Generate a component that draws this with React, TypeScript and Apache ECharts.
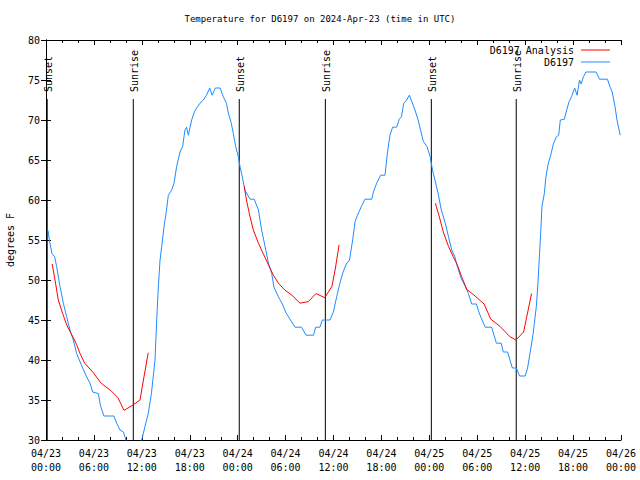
import React, { useEffect, useRef } from "react";
import * as echarts from "echarts";

// Hours since 2024-04-23 00:00 UTC
const xTickLabels = [
  "04/23\n00:00", "04/23\n06:00", "04/23\n12:00", "04/23\n18:00",
  "04/24\n00:00", "04/24\n06:00", "04/24\n12:00", "04/24\n18:00",
  "04/25\n00:00", "04/25\n06:00", "04/25\n12:00", "04/25\n18:00",
  "04/26\n00:00",
];

const stationHours = [
  0.25, 0.42, 0.75, 1.08, 1.33, 1.75, 2.17, 2.59, 3.0, 3.42, 3.84, 4.17, 4.59, 5.09, 5.51, 5.84,
  6.55, 6.84, 7.26, 8.5, 8.85, 9.27, 9.7, 10.0, 10.5, 11.2, 11.7, 11.98, 12.4, 12.8, 13.2, 13.65,
  13.86, 14.07, 14.28, 14.49, 14.78, 15.03, 15.32, 15.74, 16.03, 16.36, 16.78, 17.11, 17.4, 17.6,
  17.82, 18.24, 18.57, 18.86, 19.28, 19.7, 20.1, 20.5, 20.8, 21.2, 21.8, 22.2, 22.6, 22.8, 23.2,
  23.46, 23.75, 24.08, 24.29, 24.58, 24.9, 25.55, 26.08, 26.6, 27.0, 27.43, 27.85, 28.26, 28.55,
  29.1, 29.6, 30.0, 30.55, 31.18, 32.0, 32.56, 33.5, 33.77, 34.3, 34.6, 35.56, 35.98, 36.4, 36.8,
  37.2, 37.6, 38.0, 38.4, 38.7, 39.0, 39.5, 39.94, 40.8, 41.0, 41.4, 41.9, 42.45, 42.74, 43.07,
  43.4, 43.9, 44.24, 44.5, 44.8, 45.16, 45.5, 45.8, 46.2, 46.6, 46.9, 47.25, 47.7, 48.1, 48.4,
  48.7, 49.1, 49.5, 50.0, 50.4, 50.8, 51.2, 51.5, 52.0, 52.5, 52.9, 53.3, 53.9, 54.2, 54.6, 55.0,
  55.8, 56.1, 56.4, 57.0, 57.26, 57.8, 58.1, 58.4, 58.9, 59.3, 60.0, 60.3, 60.6, 61.0, 61.4, 61.6,
  61.8, 61.94, 62.1, 62.4, 62.6, 62.9, 63.2, 63.5, 63.9, 64.2, 64.4, 64.9, 65.2, 65.5, 65.8, 66.2,
  66.5, 66.8, 67.0, 67.3, 67.6, 68.9, 69.3, 70.3, 70.6, 70.9, 71.25, 71.5, 71.9,
];
const stationTemps = [
  56.2, 55, 53.3, 52.9, 51.7, 49.2, 47.1, 45.4, 43.75, 42.5, 40.8, 40, 39, 37.9, 37.1, 36,
  35.8, 34.2, 33, 33, 32.1, 31.25, 31, 30, 29, 28.7, 29.3, 30, 31.7, 33.3, 35.8, 40,
  45, 49.2, 52.5, 54.2, 56.7, 58.3, 60.6, 61.25, 62.1, 64.2, 66, 66.7, 68.75, 69.1,
  68.1, 70, 71, 71.5, 72.1, 72.5, 73.1, 74, 73.1, 74, 74, 72.9, 72.1, 71, 69.6,
  68.3, 66.7, 65.4, 64.2, 62.9, 61.25, 60.1, 60.1, 58.75, 56.25, 54.2, 52.1, 50.8, 49.1,
  47.9, 47, 46, 45.1, 44.1, 44.1, 43.1, 43.1, 44.1, 44.1, 45, 45, 46, 47.9, 49.6,
  51, 52, 52.5, 55, 57.3, 58.1, 59.2, 60.1, 60.1, 61, 62.1, 63.1, 63.1, 65.8, 68.1,
  69.1, 69.1, 70.1, 70.4, 72.1, 72.5, 73.1, 72.3, 71.25, 70, 68.75, 67.3, 66.7, 65.4, 63.75,
  62.5, 60.8, 58.75, 57.1, 55.4, 53.75, 52.9, 51.7, 50.2, 49.2, 48.3, 47, 47, 46, 45, 44.1,
  44.1, 43.1, 42.1, 42.1, 41, 41, 40, 39, 39, 38, 38, 39, 40.8, 43.3, 46.7, 49.6,
  53.3, 55.8, 59.2, 60.8, 62.9, 64.6, 65.6, 66.9, 67.9, 68.1, 70, 70.1, 71.25, 72.3, 72.9, 74,
  73.1, 75, 74.5, 75.4, 76, 76, 75.1, 75.1, 74.2, 73.5, 71.7, 70, 68.1,
];

// Analysis (null marks a break between runs)
const analysisHours = [
  0.77, 1.13, 1.54, 2.09, 2.59, 3.09, 3.42, 3.84, 4.26, 4.85, 5.93, 6.9, 8.2, 9.0, 9.77, 10.93,
  11.77, 12.27, 12.8,
  18.0,
  24.83, 25.1, 25.55, 25.96, 26.6, 27.2, 27.85, 28.47, 29.1, 29.9, 30.8, 31.8, 32.85, 33.8, 34.9,
  35.8, 36.2, 36.7,
  42.0,
  48.75, 49.25, 49.75, 50.4, 51.0, 51.5, 52.05, 52.7, 53.5, 54.85, 55.7, 56.85, 58.1, 58.85, 59.8,
  60.2, 60.8,
];
const analysisTemps: (number | null)[] = [
  52, 50, 47.5, 45.8, 44.4, 43.4, 42.8, 41.9, 40.8, 39.6, 38.4, 37.1, 36.1, 35.3, 33.7, 34.4,
  35, 37.9, 40.9,
  null,
  61.7, 60, 57.9, 56.25, 54.6, 53.3, 51.9, 50.6, 49.6, 48.75, 48.1, 47.1, 47.3, 48.3, 47.8,
  49.2, 51.25, 54.4,
  null,
  59.6, 57.9, 56, 54.2, 52.9, 51.9, 50.4, 48.8, 48.2, 47, 45.1, 44.2, 42.9, 42.5, 43.5,
  45.4, 48.3,
];

const eventHours = [0.15, 10.93, 24.2, 34.98, 48.25, 58.88];
const eventLabels = ["Sunset", "Sunrise", "Sunset", "Sunrise", "Sunset", "Sunrise"];

const MONO = '"DejaVu Sans Mono", "Liberation Mono", monospace';

export default function App() {
  const ref = useRef<HTMLDivElement>(null);

  useEffect(() => {
    if (!ref.current) return;
    const chart = echarts.init(ref.current, null, { renderer: "svg" });

    const xCommon = {
      type: "value" as const,
      min: 0,
      max: 72,
      interval: 6,
      splitLine: { show: false },
      axisLine: { show: true, lineStyle: { color: "#000", width: 1 } },
      axisTick: { show: true, inside: true, length: 5, lineStyle: { color: "#000" } },
      minorTick: { show: true, splitNumber: 3, length: 3, lineStyle: { color: "#000" } },
    };
    const yCommon = {
      type: "value" as const,
      min: 30,
      max: 80,
      interval: 5,
      splitLine: { show: false },
      axisLine: { show: true, lineStyle: { color: "#000", width: 1 } },
      axisTick: { show: true, inside: true, length: 5, lineStyle: { color: "#000" } },
    };

    chart.setOption({
      animation: false,
      backgroundColor: "#ffffff",
      title: {
        text: "Temperature for D6197 on 2024-Apr-23 (time in UTC)",
        left: "center",
        top: 14,
        padding: 0,
        textStyle: { fontFamily: MONO, fontSize: 9, fontWeight: "normal", color: "#000" },
      },
      legend: {
        data: ["D6197 Analysis", "D6197"],
        orient: "vertical",
        align: "right",
        right: 30,
        top: 44,
        padding: 0,
        icon: "rect",
        itemWidth: 29,
        itemHeight: 1,
        itemGap: 0,
        textStyle: {
          fontFamily: MONO,
          fontSize: 10,
          lineHeight: 12,
          color: "#000",
          padding: [0, 2, 0, 0],
        },
      },
      grid: { left: 46, right: 19, top: 40, bottom: 40, outerBoundsMode: "none" },
      xAxis: [
        {
          ...xCommon,
          position: "bottom",
          axisLabel: {
            show: true,
            fontFamily: MONO,
            fontSize: 10,
            lineHeight: 14,
            color: "#000",
            margin: 6,
            formatter: (v: number) => xTickLabels[Math.round(v / 6)] ?? "",
          },
        },
        { ...xCommon, position: "top", axisLabel: { show: false } },
      ],
      yAxis: [
        {
          ...yCommon,
          position: "left",
          name: "degrees F",
          nameLocation: "middle",
          nameGap: 31,
          nameTextStyle: { fontFamily: MONO, fontSize: 10, color: "#000" },
          axisLabel: { fontFamily: MONO, fontSize: 10, color: "#000", margin: 6 },
        },
        { ...yCommon, position: "right", axisLabel: { show: false } },
      ],
      series: [
        {
          type: "custom",
          name: "events",
          xAxisIndex: 0,
          yAxisIndex: 0,
          clip: false,
          silent: true,
          encode: { x: 0, y: 1 },
          data: eventHours.map((h) => [h, 30]),
          renderItem: (params: any, api: any) => {
            const h = api.value(0);
            const bottom = api.coord([h, 30]);
            const top = api.coord([h, 80]);
            const lineTop = top[1] + 59;
            return {
              type: "group",
              children: [
                {
                  type: "line",
                  shape: { x1: bottom[0], y1: bottom[1], x2: bottom[0], y2: lineTop },
                  style: { stroke: "#000", lineWidth: 1 },
                },
                {
                  type: "text",
                  x: bottom[0] + 1,
                  y: lineTop - 7,
                  rotation: Math.PI / 2,
                  style: {
                    text: eventLabels[params.dataIndex],
                    fill: "#000",
                    font: `10px ${MONO}`,
                    align: "left",
                    verticalAlign: "middle",
                  },
                },
              ],
            };
          },
        },
        {
          type: "line",
          name: "D6197",
          data: stationHours.map((h, i) => [h, stationTemps[i]]),
          symbol: "none",
          showSymbol: false,
          lineStyle: { color: "#1f8cff", width: 1 },
          itemStyle: { color: "#1f8cff" },
        },
        {
          type: "line",
          name: "D6197 Analysis",
          data: analysisHours.map((h, i) => [h, analysisTemps[i]]),
          symbol: "none",
          showSymbol: false,
          connectNulls: false,
          lineStyle: { color: "#ff0000", width: 1 },
          itemStyle: { color: "#ff0000" },
        },
      ],
    });

    return () => chart.dispose();
  }, []);

  return (
    <div
      ref={ref}
      style={{ position: "fixed", left: 0, top: 0, width: 640, height: 480, background: "#fff" }}
    />
  );
}
